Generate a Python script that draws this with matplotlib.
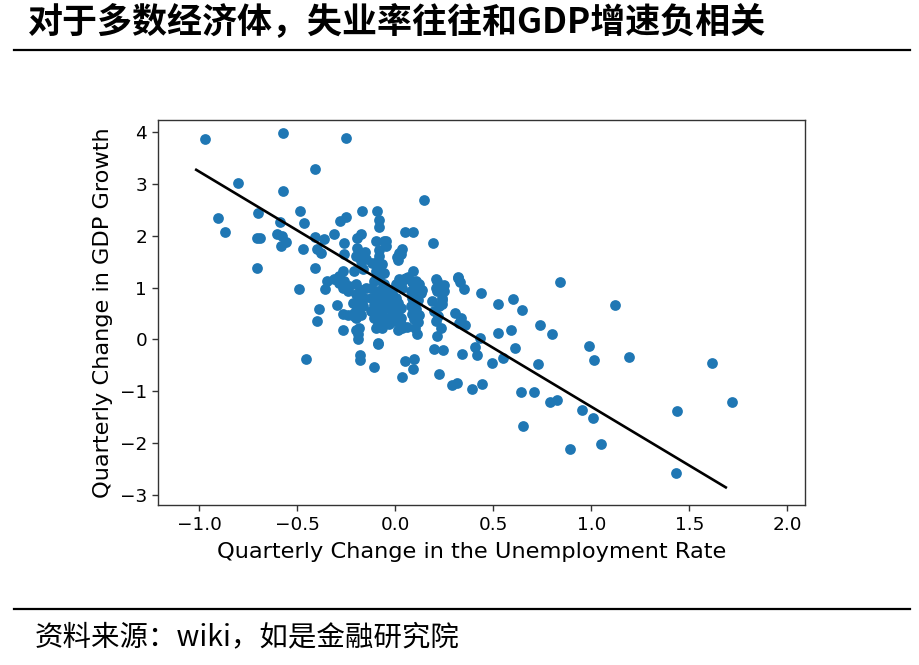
import matplotlib
matplotlib.use("Agg")
import matplotlib.pyplot as plt
from matplotlib.lines import Line2D
import numpy as np

# ---------------- data ----------------
unemp_change = [
    -0.968, -0.57, -0.251, -0.407, -0.80, -0.574,
    -0.906, -0.869, -0.699, -0.485, -0.17, -0.095,
    -0.587, -0.467, -0.281, -0.253,
    -0.604, -0.575, -0.555, -0.584,
    -0.705, -0.688,
    -0.47, -0.41, -0.40, -0.38, -0.361, -0.312,
    -0.26, -0.261, -0.193, -0.173, -0.193, -0.185, -0.156,
    -0.085, -0.085, -0.098, -0.056, -0.085, -0.085,
    -0.2, -0.15, -0.12,
    -0.707, -0.41, -0.49, -0.39, -0.40, -0.453,
    0.149, 0.051, 0.093, 0.195, -0.047, -0.047,
    0.037, 0.02, 0.009, 0.03, 0.093, 0.046, 0.02, 0.21, 0.32, -0.056,
    -0.268, -0.21, -0.175, -0.166, -0.1, -0.08, -0.09, -0.07,
    0.012,
    -0.358, -0.346, -0.312, -0.287, -0.261, -0.287, -0.268, -0.243, -0.234,
    -0.299, -0.268, -0.243, -0.209, -0.265, -0.2, -0.19, -0.19, -0.183,
    -0.178, -0.178, -0.107, -0.088,
    -0.2, -0.175, -0.149, -0.2, -0.183, -0.158, -0.2, -0.166, -0.185, -0.217, -0.209, -0.175, -0.2,
    -0.124, -0.107, -0.081, -0.098, -0.081, -0.124, -0.09, -0.065, -0.107, -0.081, -0.056,
    -0.124, -0.09, -0.065, -0.107, -0.081, -0.056, -0.09, -0.065, -0.098, -0.064, -0.07,
    -0.056, -0.031, -0.014, -0.031, 0.003, -0.022, 0.012, -0.014, 0.029, -0.005, 0.012,
    -0.022, 0.029, -0.005, 0.029, -0.031, 0.003, 0.037, 0.054, 0.037, 0.012, 0.037, -0.047,
    0.063, 0.088, 0.105, 0.122, 0.097, 0.080, 0.105, 0.088, 0.114, 0.097, 0.080,
    0.105, 0.088, 0.122, 0.097, 0.114, 0.10, 0.113, 0.06, 0.139, 0.13,
    0.212, 0.249, 0.215, 0.24, 0.24, 0.19, 0.224, 0.24, 0.207, 0.232, 0.215,
    0.198, 0.246, 0.224, 0.21, 0.20, 0.22, 0.25,
    0.051, 0.097, 0.093, 0.034, -0.087,
    0.322, 0.331, 0.351, 0.305, 0.334, 0.326, 0.355, 0.436,
    0.526, 0.60, 0.645, 0.433, 0.405, 0.417, 0.341, 0.526, 0.589, 0.609, 0.55, 0.495,
    0.288, 0.317, 0.393, 0.444,
    0.838, 1.12, 0.738, 0.80, 0.987, 1.013, 1.19, 1.615, 0.73, 0.64, 0.706,
    0.79, 0.826, 1.72, 0.953, 1.01, 1.437, 0.651, 0.892, 1.05, 1.43,
]
gdp_change = [
    3.86, 3.98, 3.89, 3.29, 3.02, 2.86,
    2.34, 2.07, 2.44, 2.47, 2.47, 2.47,
    2.27, 2.24, 2.28, 2.36,
    2.04, 2.00, 1.87, 1.80,
    1.96, 1.96,
    1.75, 1.97, 1.75, 1.66, 1.93, 2.04,
    1.86, 1.65, 1.96, 2.04, 1.77, 1.67, 1.69,
    2.31, 2.16, 1.89, 1.89, 1.73, 1.60,
    1.60, 1.55, 1.47,
    1.37, 1.37, 0.98, 0.58, 0.36, -0.37,
    2.68, 2.07, 2.07, 1.86, 1.89, 1.80,
    1.75, 1.67, 1.59, 1.64, 1.32, 1.17, 1.16, 1.17, 1.21, 1.28,
    1.32, 1.32, 1.51, 1.35, 1.32, 1.41, 1.51, 1.45,
    1.54,
    0.98, 1.12, 1.16, 1.22, 1.12, 1.09, 0.99, 0.93, 1.03,
    0.67, 0.50, 0.48, 0.45, 0.19, 0.19, 0.10, 0.0, 0.22,
    -0.29, -0.39, -0.53, -0.08,
    1.06, 0.96, 0.99, 0.87, 0.77, 0.80, 0.67, 0.64, 0.58, 0.71, 0.51, 0.48, 0.42,
    1.0, 1.12, 1.16, 0.93, 0.87, 0.80, 0.77, 0.80, 0.67, 0.64, 0.70,
    0.55, 0.55, 0.48, 0.42, 0.35, 0.40, 0.29, 0.22, 0.22, 1.03, 0.95,
    1.06, 0.96, 0.90, 0.83, 0.80, 0.74, 0.70, 0.64, 0.61, 0.55, 0.48,
    0.45, 0.42, 0.35, 0.29, 0.29, 1.06, 1.12, 1.19, 0.99, 0.19, 0.22, 0.60,
    1.20, 1.10, 1.12, 1.06, 0.99, 0.93, 0.87, 0.80, 0.77, 0.70, 0.64,
    0.58, 0.50, 0.48, 0.40, 0.33, 0.22, 0.10, 0.25, 0.96, 0.90,
    1.12, 0.93, 0.93, 0.80, 0.77, 0.74, 0.64, 0.69, 0.35, 0.23, 0.06,
    -0.18, -0.21, -0.67, 1.0, 0.55, 0.45, 1.05,
    -0.42, -0.37, -0.56, -0.72, -0.06,
    1.19, 1.10, 0.98, 0.51, 0.42, 0.32, 0.27, 0.89,
    0.69, 0.78, 0.56, 0.03, -0.14, -0.30, -0.28, 0.12, 0.19, -0.17, -0.35, -0.46,
    -0.88, -0.83, -0.96, -0.85,
    1.10, 0.66, 0.28, 0.10, -0.135, -0.39, -0.33, -0.46, -0.475, -1.02, -1.02,
    -1.21, -1.16, -1.20, -1.36, -1.51, -1.38, -1.66, -2.11, -2.02, -2.58,
]

# regression line
fit_x_range = [-1.015, 1.686]
fit_intercept = 0.97
fit_slope = -2.266

x_ticks = [-1.0, -0.5, 0.0, 0.5, 1.0, 1.5, 2.0]
y_ticks = [-3, -2, -1, 0, 1, 2, 3, 4]

title_text = "对于多数经济体，失业率往往和GDP增速负相关"
source_text = "资料来源：wiki，如是金融研究院"
x_label = "Quarterly Change in the Unemployment Rate"
y_label = "Quarterly Change in GDP Growth"

# ---------------- figure ----------------
plt.rcParams['font.family'] = ['DejaVu Sans']
fig = plt.figure(figsize=(9.2, 6.65), dpi=100)
fig.patch.set_facecolor('white')

ax = fig.add_axes([158 / 920, 1 - 505 / 665, (805 - 158) / 920, (505 - 120) / 665])
ax.scatter(unemp_change, gdp_change, s=60, color='#1f77b4', zorder=2, linewidths=0)
fx = np.array(fit_x_range)
ax.plot(fx, fit_intercept + fit_slope * fx, color='black', lw=1.9, zorder=3)

ax.set_xlim(-1.21, 2.09)
ax.set_ylim(-3.19, 4.23)
ax.set_xticks(x_ticks)
ax.set_yticks(y_ticks)
ax.set_xticklabels([f"{v:.1f}".replace('-', '\u2212') for v in x_ticks])
ax.set_yticklabels([str(v).replace('-', '\u2212') for v in y_ticks])
ax.tick_params(labelsize=13.3, length=4.4, width=1.0, color='#333333')
for sp in ax.spines.values():
    sp.set_linewidth(1.0)
    sp.set_color('#333333')
ax.set_xlabel(x_label, fontsize=16.2)
ax.xaxis.set_label_coords((472 - 158) / 647, -0.095)
ax.set_ylabel(y_label, fontsize=16.2, labelpad=5)

# title and rules
fig.text(28 / 920, 1 - 22 / 665, title_text, family=['Noto Sans CJK SC', 'DejaVu Sans'],
         fontsize=25.2, fontweight='bold', va='center', ha='left')
fig.add_artist(Line2D([14 / 920, 910 / 920], [1 - 50 / 665] * 2, color='black', lw=1.6))
fig.add_artist(Line2D([14 / 920, 910 / 920], [1 - 609 / 665] * 2, color='black', lw=1.6))
fig.text(35 / 920, 1 - 637 / 665, source_text, family=['Noto Sans CJK SC', 'DejaVu Sans'],
         fontsize=20.5, style='italic', va='center', ha='left')

fig.savefig("out.png", dpi=100, facecolor='white')
